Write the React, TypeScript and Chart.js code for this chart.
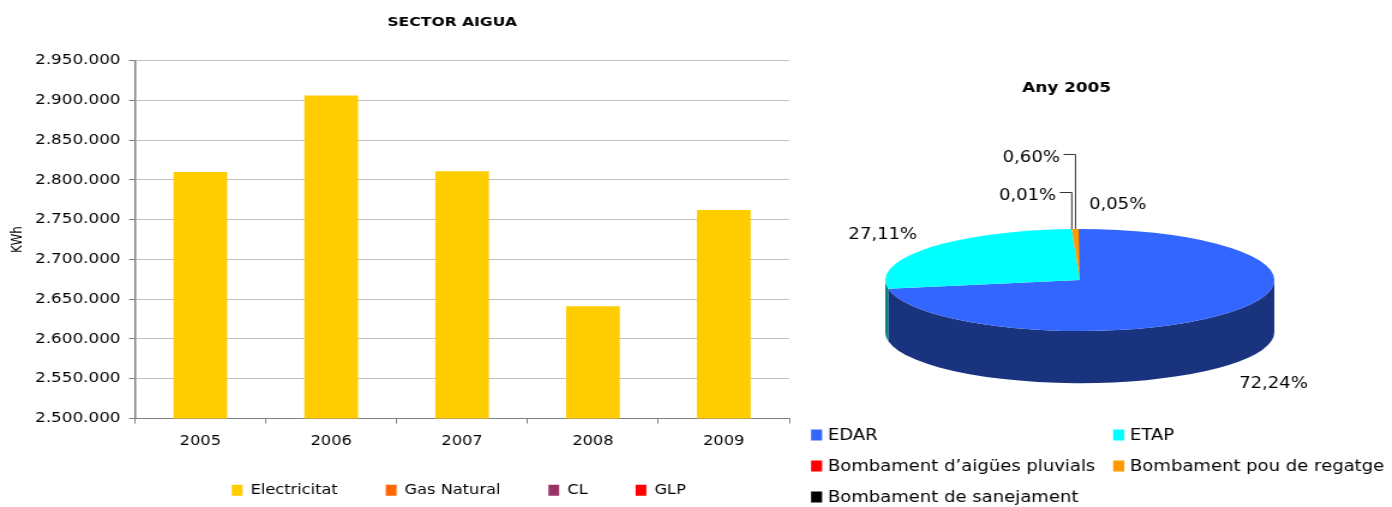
import React, { useEffect, useRef } from "react";
import { Chart, registerables } from "chart.js";

Chart.register(...registerables);

const FONT = "'DejaVu Sans', Verdana, sans-serif";
Chart.defaults.font.family = FONT;

// ---------------- Bar chart data ----------------
const barTitle = "SECTOR AIGUA";
const yAxisTitle = "KWh";
const years = ["2005", "2006", "2007", "2008", "2009"];
const barSeriesNames = ["Electricitat", "Gas Natural", "CL", "GLP"];
const electricitat = [2810000, 2906000, 2811000, 2641000, 2762000];
const gasNatural: (number | null)[] = [null, null, null, null, null];
const cl: (number | null)[] = [null, null, null, null, null];
const glp: (number | null)[] = [null, null, null, null, null];
const yMin = 2500000;
const yMax = 2950000;
const yStep = 50000;

// ---------------- Pie chart data ----------------
const pieTitle = "Any 2005";
const pieCategories = [
  "EDAR",
  "ETAP",
  "Bombament d\u2019aig\u00fces pluvials",
  "Bombament pou de regatge",
  "Bombament de sanejament",
];
const pieValues = [72.24, 27.11, 0.01, 0.6, 0.05];

// ---------------- Styles ----------------
const barColors = ["#FFCC00", "#FF6600", "#993366", "#FF0000"];
const pieTopColors = ["#3366FF", "#00FFFF", "#FF0000", "#FF9900", "#000000"];
const pieSideColors = ["#1A337F", "#008080", "#800000", "#7F4C00", "#000000"];

const TILT = 0.315;
const DEPTH_RATIO = 0.322;
const LABEL_KX = 1.3;
const LABEL_KY = 1.4;
const LABEL_DROP = 1.12;
const LEADER = 10;
const LEADER_GAP = 3;
const smallSlots = [
  { dy: -33, leader: true, dx: 0 },
  { dy: -71, leader: true, dx: 0 },
  { dy: -24, leader: false, dx: 8 },
];
const LEG_COLS = [9.2, 260.8];
const LEG_ROWS = [435, 466, 497];
const TWO_PI = Math.PI * 2;

const fmtThousands = (v: number) =>
  Math.round(v).toString().replace(/\B(?=(\d{3})+(?!\d))/g, ".");
const fmtPct = (v: number) => v.toFixed(2).replace(".", ",") + "%";

const shiftBoxes = (dxTitle: number, dxLegend: number) => ({
  id: "shiftBoxes",
  afterLayout(chart: any) {
    if (chart.titleBlock) {
      chart.titleBlock.left += dxTitle;
      chart.titleBlock.right += dxTitle;
    }
    if (chart.legend) {
      chart.legend.left += dxLegend;
      chart.legend.right += dxLegend;
    }
    const xs = chart.scales && chart.scales.x;
    if (xs) {
      // let the category labels draw below the compact axis box
      xs.bottom = xs.top + 45;
    }
  },
});

const pie3dPlugin = {
  id: "pie3d",
  beforeDatasetsDraw(chart: any) {
    const arcs = chart.getDatasetMeta(0).data as any[];
    if (!arcs.length) return false;
    const ctx = chart.ctx as CanvasRenderingContext2D;
    const { x: cx, y: cy, outerRadius: rx } = arcs[0].getProps(["x", "y", "outerRadius"], true);
    const ry = rx * TILT;
    const depth = rx * DEPTH_RATIO;
    ctx.save();
    arcs.forEach((arc, i) => {
      const { startAngle: s, endAngle: e } = arc.getProps(["startAngle", "endAngle"], true);
      for (let k = -1; k <= 1; k++) {
        const lo = Math.max(s, k * TWO_PI);
        const hi = Math.min(e, k * TWO_PI + Math.PI);
        if (hi <= lo) continue;
        ctx.beginPath();
        ctx.ellipse(cx, cy, rx, ry, 0, lo, hi);
        ctx.ellipse(cx, cy + depth, rx, ry, 0, hi, lo, true);
        ctx.closePath();
        ctx.fillStyle = pieSideColors[i];
        ctx.fill();
      }
    });
    arcs.forEach((arc, i) => {
      const { startAngle: s, endAngle: e } = arc.getProps(["startAngle", "endAngle"], true);
      ctx.beginPath();
      ctx.moveTo(cx, cy);
      ctx.ellipse(cx, cy, rx, ry, 0, s, e);
      ctx.closePath();
      ctx.fillStyle = pieTopColors[i];
      ctx.fill();
    });
    ctx.restore();
    return false;
  },
  afterDraw(chart: any) {
    const arcs = chart.getDatasetMeta(0).data as any[];
    if (!arcs.length) return;
    const ctx = chart.ctx as CanvasRenderingContext2D;
    const { x: cx, y: cy, outerRadius: rx } = arcs[0].getProps(["x", "y", "outerRadius"], true);
    const ry = rx * TILT;
    const depth = rx * DEPTH_RATIO;
    const values = chart.data.datasets[0].data as number[];
    ctx.save();
    ctx.font = `15px ${FONT}`;
    ctx.fillStyle = "#000";
    ctx.strokeStyle = "#333";
    ctx.lineWidth = 1;
    let smallIdx = 0;
    arcs.forEach((arc, i) => {
      const { startAngle: s, endAngle: e } = arc.getProps(["startAngle", "endAngle"], true);
      const mid = (s + e) / 2;
      const text = fmtPct(values[i]);
      if (values[i] >= 1) {
        const sn = Math.sin(mid);
        const lx = cx + rx * LABEL_KX * Math.cos(mid);
        const ly = cy + ry * LABEL_KY * sn + (sn > 0 ? depth * LABEL_DROP : 0);
        ctx.textAlign = "center";
        ctx.textBaseline = "middle";
        ctx.fillText(text, lx, ly);
      } else {
        const slot = smallSlots[smallIdx++] || smallSlots[smallSlots.length - 1];
        const ax = cx + rx * Math.cos(mid);
        const ay = cy + ry * Math.sin(mid);
        const ly = ay + slot.dy;
        ctx.textBaseline = "middle";
        if (slot.leader) {
          ctx.textAlign = "right";
          ctx.fillText(text, ax - LEADER - LEADER_GAP, ly);
          ctx.beginPath();
          ctx.moveTo(ax - LEADER, ly - 3.5);
          ctx.lineTo(ax, ly - 3.5);
          ctx.lineTo(ax, ay);
          ctx.stroke();
        } else {
          ctx.textAlign = "left";
          ctx.fillText(text, ax + slot.dx, ly);
        }
      }
    });
    // legend
    const labels = chart.data.labels as string[];
    const colors = chart.data.datasets[0].backgroundColor as string[];
    labels.forEach((name, i) => {
      const x = LEG_COLS[i % 2];
      const y = LEG_ROWS[Math.floor(i / 2)];
      ctx.fillStyle = colors[i];
      ctx.fillRect(x, y - 5.5, 9.2, 11);
      ctx.fillStyle = "#000";
      ctx.textAlign = "left";
      ctx.textBaseline = "middle";
      ctx.fillText(name, x + 14, y + 1);
    });
    ctx.restore();
  },
};

export default function App() {
  const barRef = useRef<HTMLCanvasElement>(null);
  const pieRef = useRef<HTMLCanvasElement>(null);

  useEffect(() => {
    if (!barRef.current || !pieRef.current) return;
    const seriesData = [electricitat, gasNatural, cl, glp];
    const bar = new Chart(barRef.current, {
      type: "bar",
      data: {
        labels: years,
        datasets: barSeriesNames.map((name, i) => ({
          label: name,
          data: seriesData[i] as any,
          backgroundColor: barColors[i],
          borderWidth: 0,
        })),
      },
      options: {
        responsive: false,
        animation: false,
        devicePixelRatio: 1,
        layout: { padding: { left: 0, right: 9, top: 0, bottom: 0 } },
        datasets: { bar: { grouped: false, categoryPercentage: 1, barPercentage: 0.41 } } as any,
        scales: {
          x: {
            grid: {
              display: true,
              drawOnChartArea: false,
              drawTicks: true,
              tickLength: 5,
              color: "#808080",
              offset: true,
            },
            border: { display: true, color: "#808080", width: 1 },
            ticks: { color: "#000", font: { size: 13.5 }, padding: 10 },
            afterFit: (s: any) => {
              s.height = 25;
            },
          },
          y: {
            min: yMin,
            max: yMax,
            ticks: {
              stepSize: yStep,
              color: "#000",
              font: { size: 14 },
              padding: 7,
              callback: (v: any) => fmtThousands(Number(v)),
            },
            grid: { color: "#C0C0C0", tickColor: "#808080", tickLength: 5 },
            border: { display: true, color: "#808080", width: 1.5 },
            title: {
              display: true,
              text: yAxisTitle,
              color: "#000",
              font: { size: 12 },
              padding: { top: 8, bottom: 0 },
            },
            afterFit: (s: any) => {
              s.width = 112.5;
            },
          },
        },
        plugins: {
          title: {
            display: true,
            text: barTitle,
            color: "#000",
            font: { size: 13, weight: "bold" },
            padding: { top: 15, bottom: 30 },
          },
          legend: {
            position: "bottom",
            labels: {
              boxWidth: 9,
              boxHeight: 11,
              padding: 40,
              color: "#000",
              font: { size: 13.5 },
            },
          },
          tooltip: { enabled: false },
        },
      },
      plugins: [shiftBoxes(48, 53.5)],
    });

    const pie = new Chart(pieRef.current, {
      type: "pie",
      data: {
        labels: pieCategories,
        datasets: [
          {
            data: pieValues,
            backgroundColor: pieTopColors,
            borderWidth: 0,
          },
        ],
      },
      options: {
        responsive: false,
        animation: false,
        devicePixelRatio: 1,
        layout: { padding: { left: 71, right: 98, top: 0, bottom: 65 } },
        plugins: {
          legend: { display: false },
          tooltip: { enabled: false },
          title: {
            display: true,
            text: pieTitle,
            color: "#000",
            font: { size: 14, weight: "bold" },
            padding: { top: 79.6, bottom: 21.6 },
          },
        },
      },
      plugins: [shiftBoxes(-11, 0), pie3dPlugin],
    });

    return () => {
      bar.destroy();
      pie.destroy();
    };
  }, []);

  return (
    <div
      style={{
        position: "absolute",
        left: 0,
        top: 0,
        width: 1392,
        height: 507,
        background: "#fff",
        overflow: "hidden",
      }}
    >
      <canvas
        ref={barRef}
        width={667}
        height={507}
        style={{ position: "absolute", left: 0, top: 0, width: "800px", height: "507px" }}
      />
      <canvas
        ref={pieRef}
        width={493}
        height={507}
        style={{ position: "absolute", left: 800, top: 0, width: "592px", height: "507px" }}
      />
    </div>
  );
}
